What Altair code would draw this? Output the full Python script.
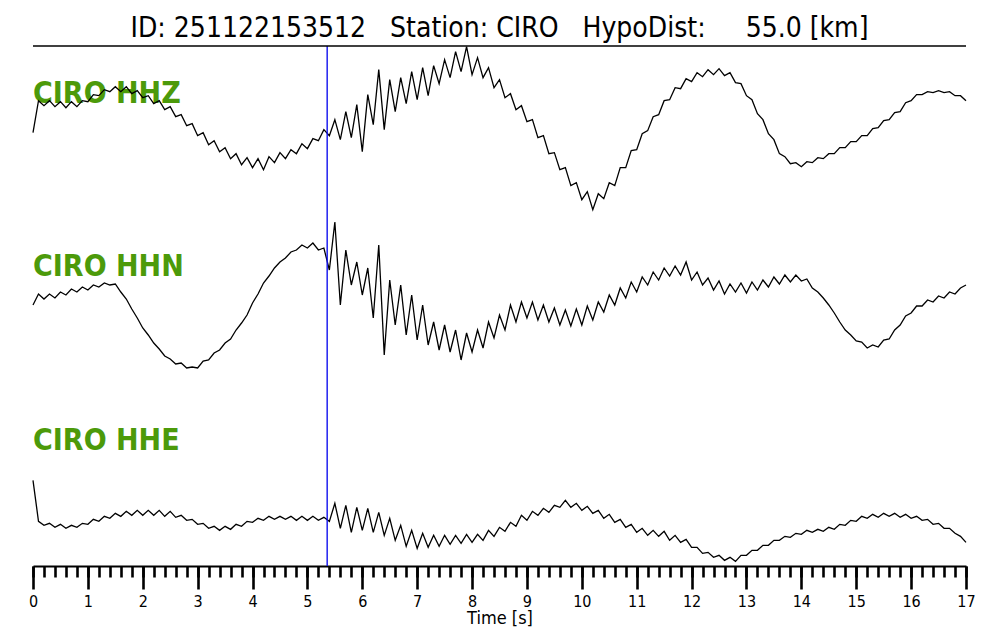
import altair as alt
import pandas as pd

STATION = "CIRO"
CHANNELS = ["HHZ", "HHN", "HHE"]
EVENT_ID = "251122153512"
HYPO_DIST_KM = 55.0
P_PICK_S = 5.36
DT = 0.1
T_END = 17
X_TICKS = list(range(0, 18))

hhz = [0, 32, 27, 32, 26, 31, 25, 31, 26, 32,
       31, 38, 37, 43, 41, 46, 41, 46, 39, 42,
       35, 37, 29, 32, 23, 26, 16, 18, 7, 9,
       -3, 0, -12, -8, -19, -15, -26, -21, -32, -25,
       -35, -26, -37, -24, -30, -20, -26, -17, -21, -11,
       -16, -6, -8, 3, -3, 13, -7, 21, -5, 28,
       -19, 38, 8, 63, 3, 53, 21, 55, 29, 61,
       33, 65, 37, 67, 49, 73, 55, 81, 61, 86,
       58, 75, 55, 65, 45, 53, 35, 39, 23, 27,
       11, 13, -5, -3, -21, -20, -37, -35, -53, -50,
       -67, -59, -77, -61, -66, -50, -53, -35, -35, -18,
       -17, -1, 2, 16, 18, 32, 33, 45, 44, 54,
       51, 60, 56, 63, 58, 64, 57, 60, 50, 49,
       37, 33, 19, 13, -1, -7, -21, -24, -31, -30,
       -34, -29, -30, -25, -26, -21, -21, -15, -15, -9,
       -9, -3, -3, 4, 5, 12, 13, 20, 21, 30,
       32, 38, 38, 41, 40, 42, 40, 41, 37, 37,
       32]

hhn = [1, 12, 7, 12, 8, 14, 11, 17, 14, 19,
       16, 21, 19, 23, 21, 22, 14, 7, -3, -12,
       -22, -29, -37, -43, -50, -53, -58, -57, -62, -61,
       -62, -55, -54, -47, -44, -37, -33, -24, -17, -9,
       3, 12, 23, 30, 38, 44, 48, 54, 56, 61,
       58, 63, 56, 58, 36, 84, 1, 56, 21, 44,
       11, 38, -12, 61, -49, 26, -19, 21, -29, 11,
       -34, 1, -39, -16, -44, -19, -46, -24, -54, -27,
       -46, -24, -42, -16, -32, -9, -24, 1, -16, 4,
       -12, 4, -14, 1, -16, -2, -19, -4, -20, -3,
       -19, 0, -14, 4, -6, 11, 1, 18, 8, 24,
       14, 29, 21, 34, 26, 38, 30, 40, 31, 44,
       26, 34, 21, 28, 16, 25, 12, 22, 14, 23,
       13, 24, 16, 26, 19, 29, 22, 31, 24, 31,
       25, 27, 18, 14, 8, 1, -7, -16, -24, -29,
       -35, -36, -42, -39, -41, -34, -33, -24, -19, -10,
       -7, 0, 0, 6, 4, 10, 8, 14, 12, 18,
       21]

hhe = [-1, -42, -46, -44, -48, -45, -49, -46, -48, -44,
       -45, -40, -42, -37, -39, -34, -37, -32, -36, -31,
       -36, -31, -36, -31, -37, -32, -38, -36, -41, -40,
       -45, -44, -49, -47, -51, -47, -50, -45, -47, -42,
       -43, -39, -41, -37, -40, -37, -40, -37, -41, -37,
       -41, -37, -41, -38, -42, -24, -49, -26, -53, -28,
       -51, -29, -53, -33, -56, -39, -61, -46, -67, -51,
       -69, -54, -68, -56, -67, -56, -65, -56, -64, -55,
       -63, -55, -61, -51, -57, -48, -52, -43, -47, -36,
       -41, -32, -36, -29, -33, -26, -28, -21, -28, -24,
       -31, -27, -34, -31, -39, -35, -43, -40, -48, -45,
       -53, -49, -56, -51, -57, -52, -61, -56, -63, -60,
       -68, -68, -74, -73, -78, -76, -81, -78, -82, -76,
       -76, -71, -71, -66, -66, -61, -61, -57, -58, -54,
       -55, -51, -53, -50, -52, -48, -50, -45, -46, -41,
       -42, -37, -39, -35, -38, -34, -37, -34, -38, -35,
       -39, -37, -41, -40, -45, -44, -49, -49, -54, -57,
       -63]

traces = [hhz, hhn, hhe]

rows = []
for idx, (ch, vals) in enumerate(zip(CHANNELS, traces)):
    for i, v in enumerate(vals):
        rows.append({"t": round(i * DT, 3), "amp": v, "channel": ch, "idx": idx})
df = pd.DataFrame(rows)

lab_df = pd.DataFrame({"label": [f"{STATION} {c}" for c in CHANNELS],
                       "idx": list(range(len(CHANNELS)))})
pick_df = pd.DataFrame({"t": [P_PICK_S]})

W, H = 933, 520
BAND = H / 3
LABEL_DROP = 57
FONT = "DejaVu Sans Condensed, DejaVu Sans"

x_scale = alt.Scale(domain=[0, T_END], nice=False, zero=False)
y_scale = alt.Scale(domain=[0, H], nice=False, zero=False)

major_axis = alt.Axis(orient="bottom", values=X_TICKS, format="d", tickSize=23,
                      tickWidth=2.6, tickColor="black", tickCap="butt",
                      domainColor="black", domainWidth=2, grid=False,
                      labelFont=FONT, labelFontSize=16, labelColor="black",
                      labelPadding=4, labelFlush=False, labelOverlap=False,
                      title="Time [s]", titleFont=FONT, titleFontSize=18,
                      titleFontWeight="normal", titleColor="black", titlePadding=0)
minor_axis = alt.Axis(orient="bottom", values=[round(i * 0.2, 1) for i in range(86)],
                      tickSize=11, tickWidth=2.6, tickColor="black", tickCap="butt",
                      labels=False, domain=False, grid=False, title=None)

labels = alt.Chart(lab_df).transform_calculate(
    y=f"{BAND}*(3-datum.idx)-{LABEL_DROP}", x="0"
).mark_text(align="left", baseline="alphabetic", font=FONT, fontWeight="bold",
            fontSize=30, color="#4c9a0a").encode(
    x=alt.X("x:Q", scale=x_scale, axis=None),
    y=alt.Y("y:Q", scale=y_scale, axis=None),
    text="label:N")

lines = alt.Chart(df).transform_calculate(
    y=f"{BAND}*(2.5-datum.idx)+datum.amp"
).mark_line(color="black", strokeWidth=1.3).encode(
    x=alt.X("t:Q", scale=x_scale, axis=major_axis),
    y=alt.Y("y:Q", scale=y_scale, axis=None),
    detail="channel:N")

pick = alt.Chart(pick_df).mark_rule(color="#1010ee", strokeWidth=1.4).encode(
    x=alt.X("t:Q", scale=x_scale, axis=minor_axis))

top = alt.Chart(pick_df).mark_rule(color="black", strokeWidth=1.5).encode(
    y=alt.datum(H, scale=y_scale))

title_text = (f"ID: {EVENT_ID}\u00a0\u00a0\u00a0Station: {STATION}\u00a0\u00a0\u00a0"
              f"HypoDist:\u00a0\u00a0\u00a0\u00a0\u00a0{HYPO_DIST_KM:.1f} [km]")

chart = alt.layer(labels, lines, pick, top).resolve_axis(x="independent").properties(
    width=W, height=H,
    title=alt.TitleParams(text=title_text, font=FONT, fontSize=28, fontWeight="normal",
                          color="black", anchor="middle", offset=1),
    autosize=alt.AutoSizeParams(type="none"),
    padding={"left": 25, "top": 38, "right": 26, "bottom": 66},
).configure_view(strokeWidth=0)

chart.save("out.html", embed_options={"renderer": "svg", "actions": False})
